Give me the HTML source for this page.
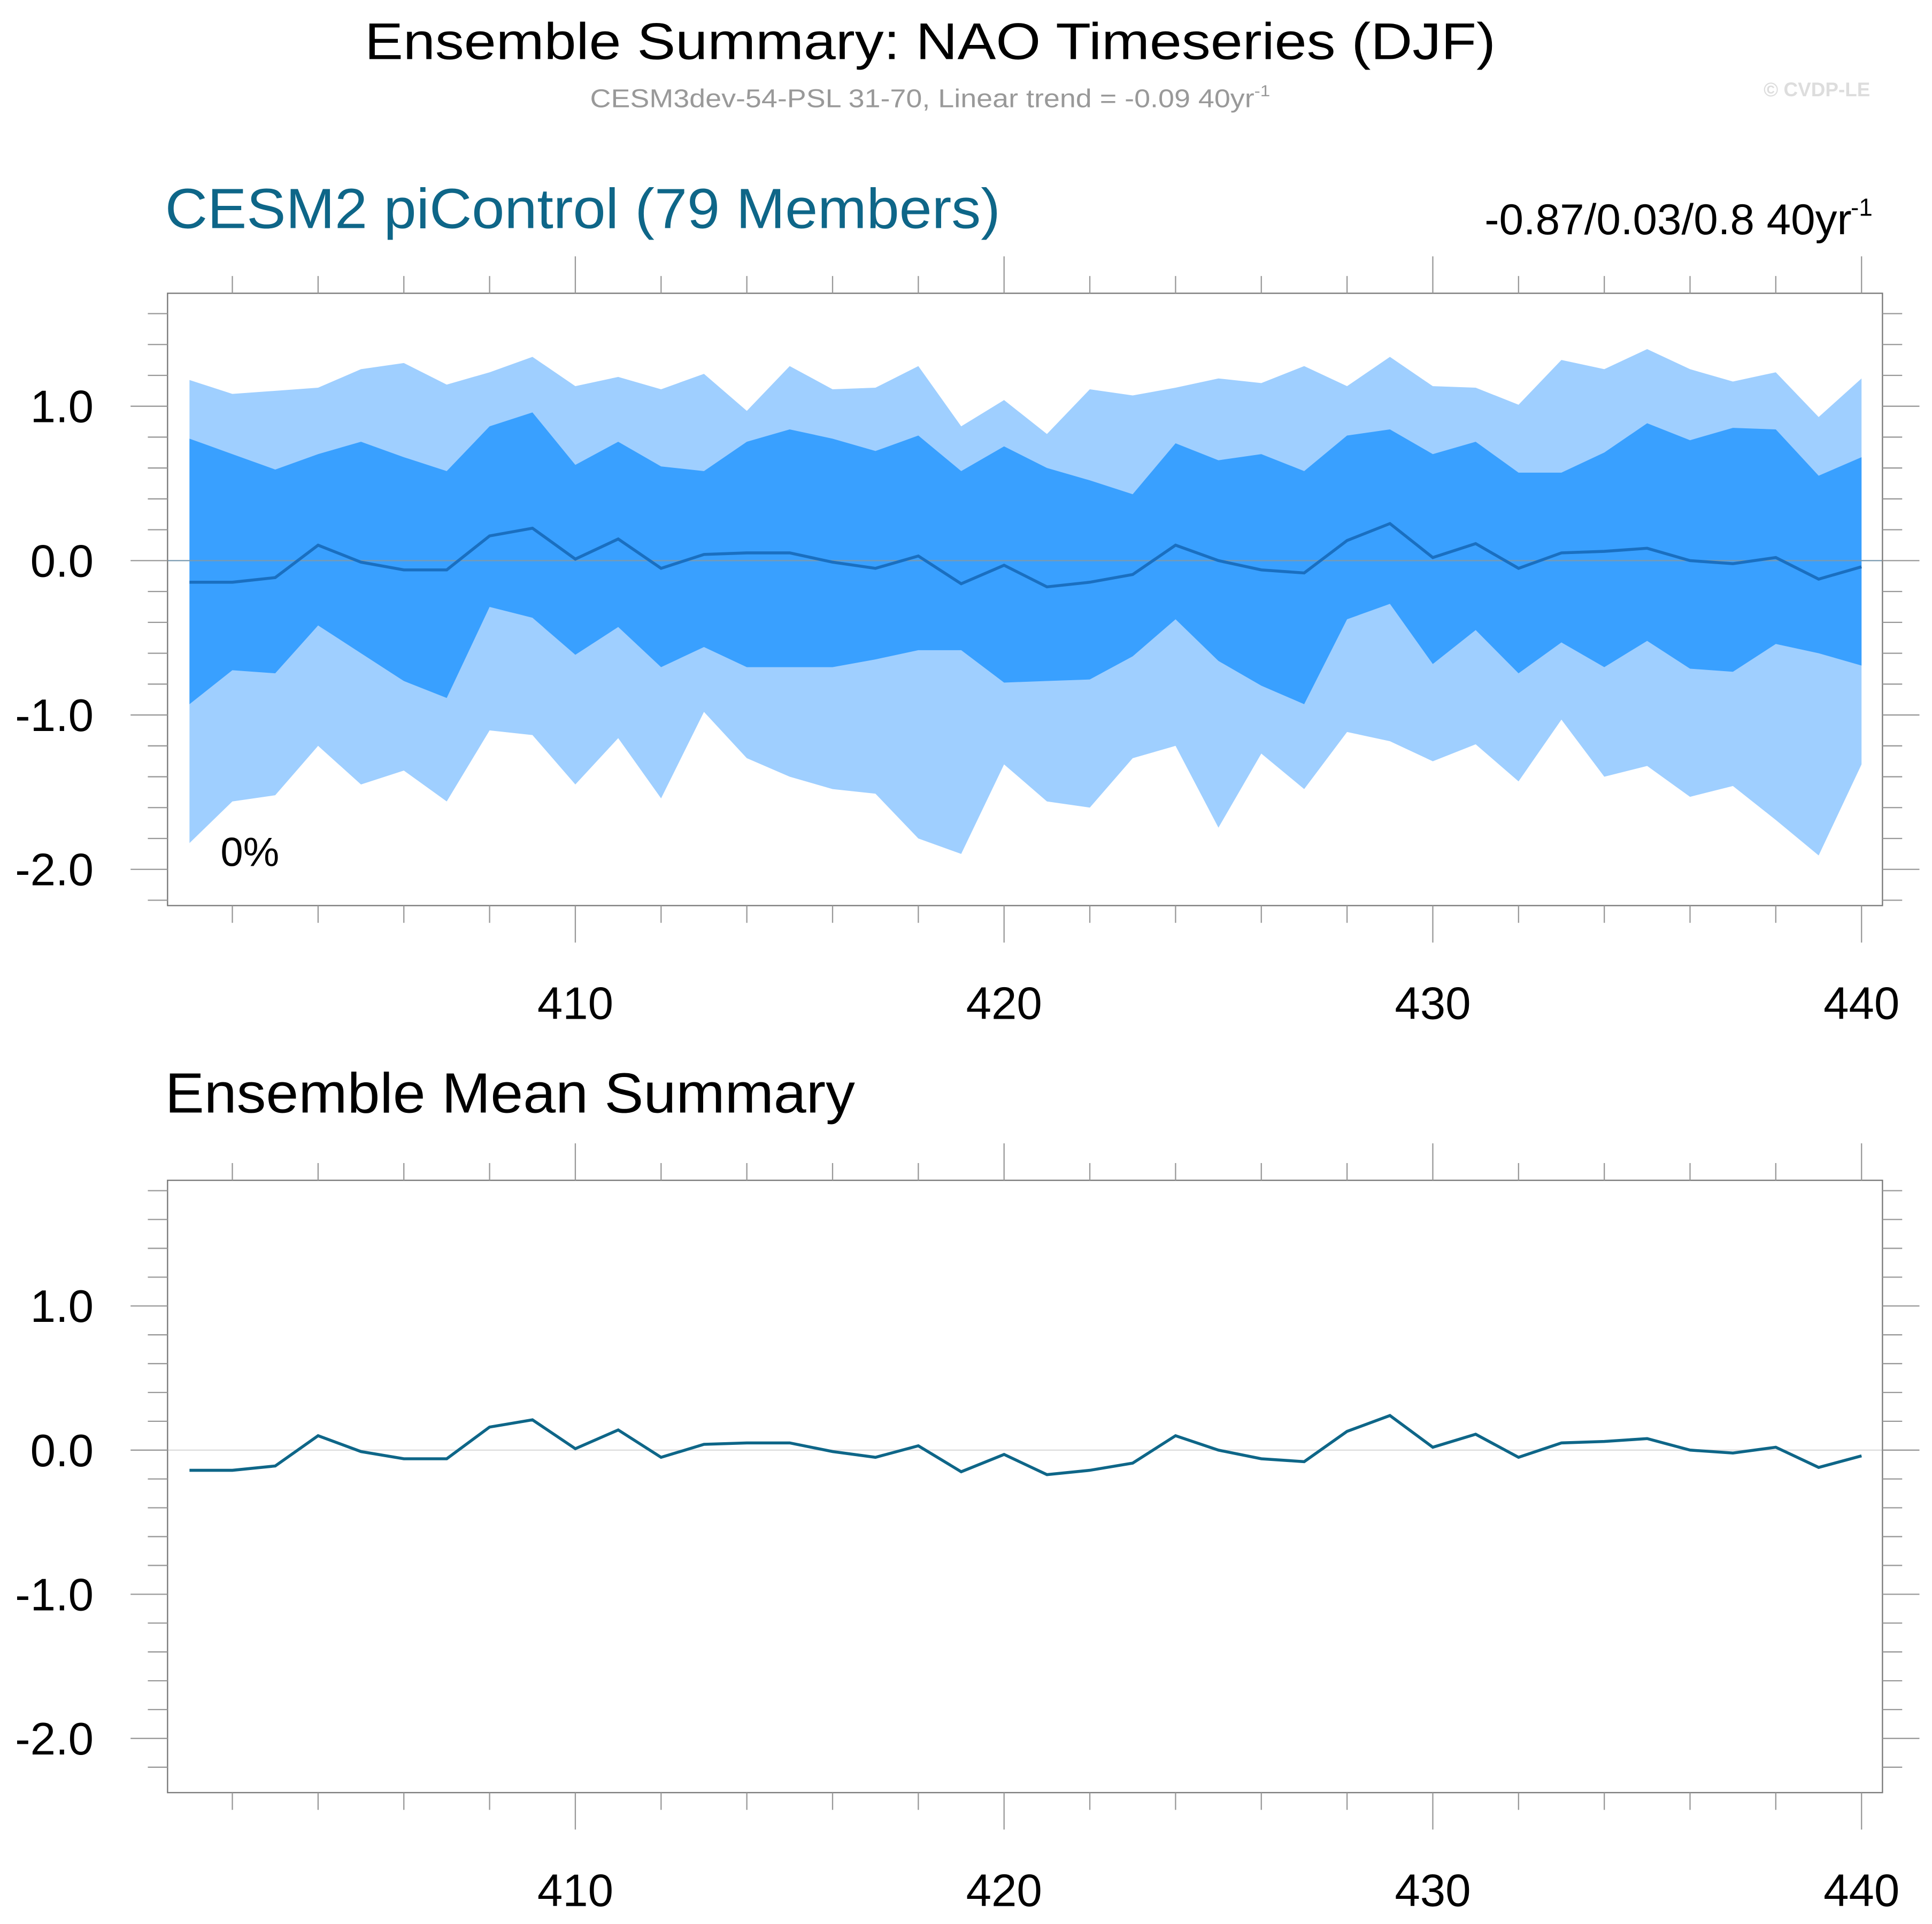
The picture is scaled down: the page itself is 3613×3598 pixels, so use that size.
<!DOCTYPE html>
<html><head><meta charset="utf-8"><style>
html,body{margin:0;padding:0;background:#fff;}
svg{display:block;font-family:"Liberation Sans",sans-serif;}
</style></head><body>
<svg id="chart" xmlns="http://www.w3.org/2000/svg" width="3613" height="3598" viewBox="0 0 1568.2 1561.6">
<rect width="1568.2" height="1561.6" fill="#fff"/>
<text x="755" y="48" font-size="42" text-anchor="middle" fill="#000" textLength="918" lengthAdjust="spacingAndGlyphs">Ensemble Summary: NAO Timeseries (DJF)</text>
<text x="755" y="87" font-size="21" text-anchor="middle" fill="#999" textLength="552" lengthAdjust="spacingAndGlyphs">CESM3dev-54-PSL 31-70, Linear trend = -0.09 40yr<tspan dy="-9" font-size="13">-1</tspan></text>
<text x="1518" y="78" font-size="16" font-weight="bold" text-anchor="end" fill="#ddd">© CVDP-LE</text>
<text x="134" y="185" font-size="46" fill="#0e6688" textLength="678" lengthAdjust="spacingAndGlyphs">CESM2 piControl (79 Members)</text>
<text x="1205" y="190" font-size="35" fill="#000" textLength="298" lengthAdjust="spacingAndGlyphs">-0.87/0.03/0.8 40yr</text>
<text x="1520" y="175" font-size="20" text-anchor="end" fill="#000">-1</text>
<text x="179" y="703" font-size="33" fill="#000">0%</text>
<text x="134" y="903" font-size="46" fill="#000" textLength="560" lengthAdjust="spacingAndGlyphs">Ensemble Mean Summary</text>
<g id="top"></g><g id="bot"></g>
</svg>
<script>
const years=[];for(let y=401;y<=440;y++)years.push(y);
const meanVals=[-0.14,-0.14,-0.11,0.10,-0.01,-0.06,-0.06,0.16,0.21,0.01,0.14,-0.05,0.04,0.05,0.05,-0.01,-0.05,0.03,-0.15,-0.03,-0.17,-0.14,-0.09,0.10,0.00,-0.06,-0.08,0.13,0.24,0.02,0.11,-0.05,0.05,0.06,0.08,0.00,-0.02,0.02,-0.12,-0.04];
const outerMax=[1.17,1.08,1.10,1.12,1.24,1.28,1.14,1.22,1.32,1.13,1.19,1.11,1.21,0.97,1.26,1.11,1.12,1.26,0.87,1.04,0.82,1.11,1.07,1.12,1.18,1.15,1.26,1.13,1.32,1.13,1.12,1.01,1.30,1.24,1.37,1.24,1.16,1.22,0.93,1.18];
const innerMax=[0.79,0.69,0.59,0.69,0.77,0.67,0.58,0.87,0.96,0.62,0.77,0.61,0.58,0.77,0.85,0.79,0.71,0.81,0.58,0.74,0.60,0.52,0.43,0.76,0.65,0.69,0.58,0.81,0.85,0.69,0.77,0.57,0.57,0.70,0.89,0.78,0.86,0.85,0.55,0.67];
const innerMin=[-0.93,-0.71,-0.73,-0.42,-0.60,-0.78,-0.89,-0.30,-0.37,-0.61,-0.43,-0.69,-0.56,-0.69,-0.69,-0.69,-0.64,-0.58,-0.58,-0.79,-0.78,-0.77,-0.62,-0.38,-0.65,-0.81,-0.93,-0.38,-0.28,-0.67,-0.45,-0.73,-0.53,-0.69,-0.52,-0.70,-0.72,-0.54,-0.60,-0.68];
const outerMin=[-1.83,-1.56,-1.52,-1.20,-1.45,-1.36,-1.56,-1.10,-1.13,-1.45,-1.15,-1.54,-0.98,-1.28,-1.40,-1.48,-1.51,-1.80,-1.90,-1.32,-1.56,-1.60,-1.28,-1.20,-1.73,-1.25,-1.48,-1.11,-1.17,-1.30,-1.19,-1.43,-1.03,-1.40,-1.33,-1.53,-1.46,-1.68,-1.91,-1.32];
const xTicks=[410,420,430,440];
const yTicks=[1.0,0.0,-1.0,-2.0];
const yTickLabels=["1.0","0.0","-1.0","-2.0"];
const NS="http://www.w3.org/2000/svg";
function mk(p,t,a){const e=document.createElementNS(NS,t);for(const k in a)e.setAttribute(k,a[k]);p.appendChild(e);return e;}
const X0=136,X1=1528;
const xs=y=>153.8+(y-401)*34.8;
function panel(gid,top,zeroY,unit,bands,lineColor){
  const g=document.getElementById(gid),bot=top+497;
  const ys=v=>zeroY-v*unit;
  function poly(hi,lo,fill,name){
    let pts=years.map((y,i)=>xs(y)+','+ys(hi[i]));
    for(let i=years.length-1;i>=0;i--)pts.push(xs(years[i])+','+ys(lo[i]));
    const p=mk(g,'polygon',{points:pts.join(' '),fill:fill});
    
    
  }
  if(bands){poly(outerMax,outerMin,'#9fcfff','outer-range-band');poly(innerMax,innerMin,'#39a0ff','inner-range-band');}
  const z=mk(g,'line',{x1:X0,x2:X1,y1:ys(0),y2:ys(0),stroke:bands?'#7a9ab0':'#ddd','stroke-width':1});
  
  
  const l=mk(g,'polyline',{points:years.map((y,i)=>xs(y)+','+ys(meanVals[i])).join(' '),fill:'none',stroke:lineColor,'stroke-width':2.4});
  
  
  const f=mk(g,'rect',{x:X0,y:top,width:X1-X0,height:497,fill:'none',stroke:'#777','stroke-width':1});
  
  
  const tk={stroke:'#999','stroke-width':1};
  for(let y=402;y<=440;y+=2){const maj=xTicks.includes(y);const len=maj?30:14;
    mk(g,'line',Object.assign({x1:xs(y),x2:xs(y),y1:top,y2:top-len},tk));
    mk(g,'line',Object.assign({x1:xs(y),x2:xs(y),y1:bot,y2:bot+len},tk));}
  for(let k=-30;k<=20;k++){const v=k/10;if(Math.abs(k)%2)continue;const yy=ys(v);if(yy<top-0.5||yy>bot+0.5)continue;
    const maj=k%10===0;const len=maj?30:16;
    mk(g,'line',Object.assign({x1:X0,x2:X0-len,y1:yy,y2:yy},tk));
    mk(g,'line',Object.assign({x1:X1,x2:X1+len,y1:yy,y2:yy},tk));}
  xTicks.forEach(t=>{const e=mk(g,'text',{x:xs(t),y:bot+92,'font-size':37,'text-anchor':'middle',fill:'#000'});e.textContent=t;
    
    });
  yTicks.forEach((t,i)=>{const e=mk(g,'text',{x:76,y:ys(t)+13,'font-size':37,'text-anchor':'end',fill:'#000'});e.textContent=yTickLabels[i];
    
    });
}
panel('top',238,455,125.3,true,'#1a6fc0');
panel('bot',958,1177,117,false,'#0e6688');
</script>
</body></html>
